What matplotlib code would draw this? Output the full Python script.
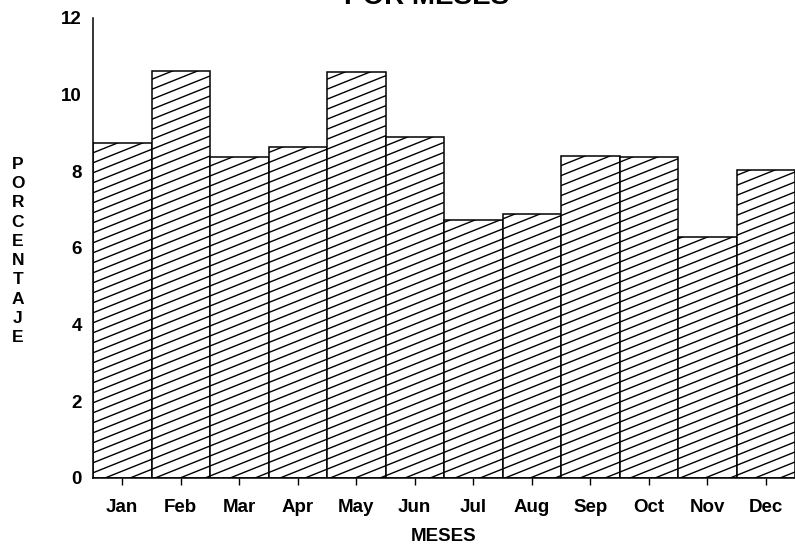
import numpy as np
import matplotlib
matplotlib.use("Agg")
import matplotlib.pyplot as plt
import matplotlib.hatch as mhatch
from matplotlib.path import Path

# ---- data ----
months = ["Jan", "Feb", "Mar", "Apr", "May", "Jun",
          "Jul", "Aug", "Sep", "Oct", "Nov", "Dec"]
porcentaje = [8.75, 10.62, 8.38, 8.64, 10.59, 8.90,
              6.73, 6.89, 8.40, 8.37, 6.30, 8.04]
yticks = [0, 2, 4, 6, 8, 10, 12]
title = "POR MESES"
xlabel = "MESES"
ylabel = "PORCENTAJE"


# ---- shallow diagonal hatch (like the scanned original) ----
class ShallowHatch(mhatch.HatchPatternBase):
    slope = 0.4
    n = 10

    def __init__(self, hatch, density):
        cnt = hatch.count('/')
        if cnt:
            k = int(round(abs(self.slope) * self.n))
            self.offsets = np.arange(-k, self.n + k + 1) / self.n
            self.num_vertices = len(self.offsets) * 2
        else:
            self.offsets = np.array([])
            self.num_vertices = 0

    def set_vertices_and_codes(self, vertices, codes):
        c = self.offsets
        vertices[0::2, 0] = 0.0
        vertices[0::2, 1] = c
        vertices[1::2, 0] = 1.0
        vertices[1::2, 1] = c + self.slope
        codes[0::2] = Path.MOVETO
        codes[1::2] = Path.LINETO


mhatch._hatch_types[mhatch._hatch_types.index(mhatch.NorthEastHatch)] = ShallowHatch

plt.rcParams['font.family'] = ['Liberation Sans', 'DejaVu Sans']
plt.rcParams['font.weight'] = 'bold'
plt.rcParams['hatch.linewidth'] = 1.0
plt.rcParams['hatch.color'] = 'black'

W, H = 795, 544
fig = plt.figure(figsize=(W / 100, H / 100), dpi=100)
ax = fig.add_axes([93 / W, 66 / H, 702 / W, 460 / H])

x = np.arange(len(months))
ax.bar(x, porcentaje, width=1.0, facecolor='white', edgecolor='black',
       linewidth=1.1, hatch='/')

ax.set_xlim(-0.5, len(months) - 0.5)
ax.set_ylim(0, 12)
ax.set_yticks(yticks)
ax.set_yticklabels([str(v) for v in yticks])
ax.set_xticks(x)
ax.set_xticklabels(months)

for s in ['top', 'right']:
    ax.spines[s].set_visible(False)
for s in ['left', 'bottom']:
    ax.spines[s].set_linewidth(1.1)

ax.tick_params(axis='y', length=0, pad=8, labelsize=13.5)
ax.tick_params(axis='x', direction='out', length=5, width=1.0, pad=10, labelsize=13.5)
for lbl in ax.get_xticklabels() + ax.get_yticklabels():
    lbl.set_fontweight('bold')

ax.set_xlabel(xlabel, fontsize=13.5, fontweight='bold', labelpad=9)

# stacked vertical y label
fig.text(18 / W, 1 - 251 / H, "\n".join(ylabel), ha='center', va='center',
         fontsize=12.5, fontweight='bold', linespacing=1.36)

# title, mostly cut off at the top edge as in the scan
fig.text(427 / W, 1 - 4 / H, title, ha='center', va='baseline',
         fontsize=20, fontweight='bold')

fig.savefig("out.png", dpi=100)
